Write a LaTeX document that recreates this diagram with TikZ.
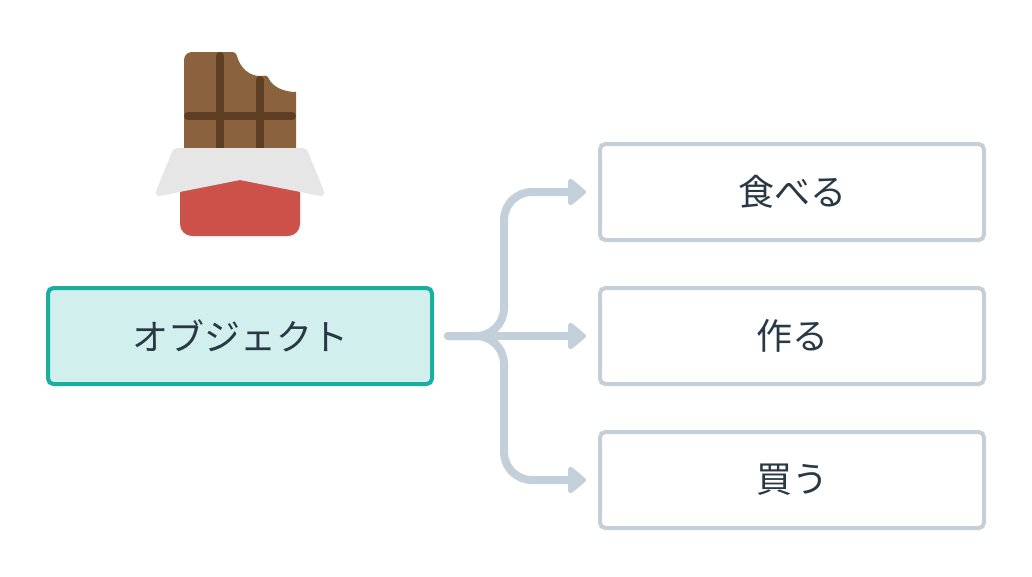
\documentclass[tikz,border=0pt]{standalone}
\usepackage{fontspec}
\usetikzlibrary{arrows.meta}
\newfontfamily\cjk{Noto Sans CJK JP}
\definecolor{txt}{HTML}{293845}
\definecolor{teal}{HTML}{1AAE9F}
\definecolor{tealfill}{HTML}{D1EFED}
\definecolor{greyline}{HTML}{C3CFD9}
\definecolor{bar}{HTML}{8A633E}
\definecolor{groove}{HTML}{5E3F24}
\definecolor{wrap}{HTML}{E6E6E6}
\definecolor{redwrap}{HTML}{CB5149}
\tikzset{
  x=0.75pt,y=-0.75pt,
  box/.style={draw=greyline,fill=white,line width=3pt,rounded corners=4pt,minimum width=288pt,minimum height=72pt,inner sep=0pt,text=txt,font=\cjk\fontsize{27}{32}\selectfont},
  objbox/.style={box,draw=teal,fill=tealfill},
  conn/.style={draw=greyline,line width=6pt,line cap=round,-{Triangle[length=14.5pt,width=23pt,round]},shorten >=9pt},
  groovel/.style={draw=groove,line width=6pt,line cap=round}
}
\begin{document}
\begin{tikzpicture}
\useasboundingbox (0,0) rectangle (1032,576);
% chocolate
\fill[bar] (184,148) -- (184,60) .. controls (184,55.6) and (187.6,52) .. (192,52) -- (232,52)
  .. controls (235,52) and (236,53) .. (237,56)
  .. controls (240,68) and (250,77) .. (262,76)
  .. controls (266,75) and (268,76) .. (269,79)
  .. controls (273,87) and (284,92) .. (296,92) -- (296,148) -- cycle;
\begin{scope}
\clip (184,52) rectangle (296,148);
\draw[groovel] (220,56) -- (220,160);
\draw[groovel] (260,80) -- (260,160);
\end{scope}
\draw[groovel] (188,116) -- (292,116);
\fill[redwrap] (180,170) -- (300,170) -- (300,224) .. controls (300,230.6) and (294.6,236) .. (288,236) -- (192,236) .. controls (185.4,236) and (180,230.6) .. (180,224) -- cycle;
\fill[wrap] (178,148) -- (302,148) .. controls (305,148) and (307,149) .. (308,152)
  -- (323.5,190) .. controls (325,194) and (323,197) .. (319,195.7)
  -- (240,180) -- (161,195.7) .. controls (157,197) and (155,194) .. (156.5,190)
  -- (172,152) .. controls (173,149) and (175,148) .. (178,148) -- cycle;
% boxes
\node[objbox] (obj) at (240,336) {\raisebox{2pt}{オブジェクト}};
\node[box] (eat) at (792,192) {食べる};
\node[box] (make) at (792,336) {作る};
\node[box] (buy) at (792,480) {買う};
% connectors
\coordinate (start) at (448,336);
\draw[conn] (start) -- (476,336) .. controls (491.5,336) and (504,323.5) .. (504,308) -- (504,220)
  .. controls (504,204.5) and (516.5,192) .. (532,192) -- (eat.west);
\draw[conn] (start) -- (make.west);
\draw[conn] (start) -- (476,336) .. controls (491.5,336) and (504,348.5) .. (504,364) -- (504,452)
  .. controls (504,467.5) and (516.5,480) .. (532,480) -- (buy.west);
\end{tikzpicture}
\end{document}
